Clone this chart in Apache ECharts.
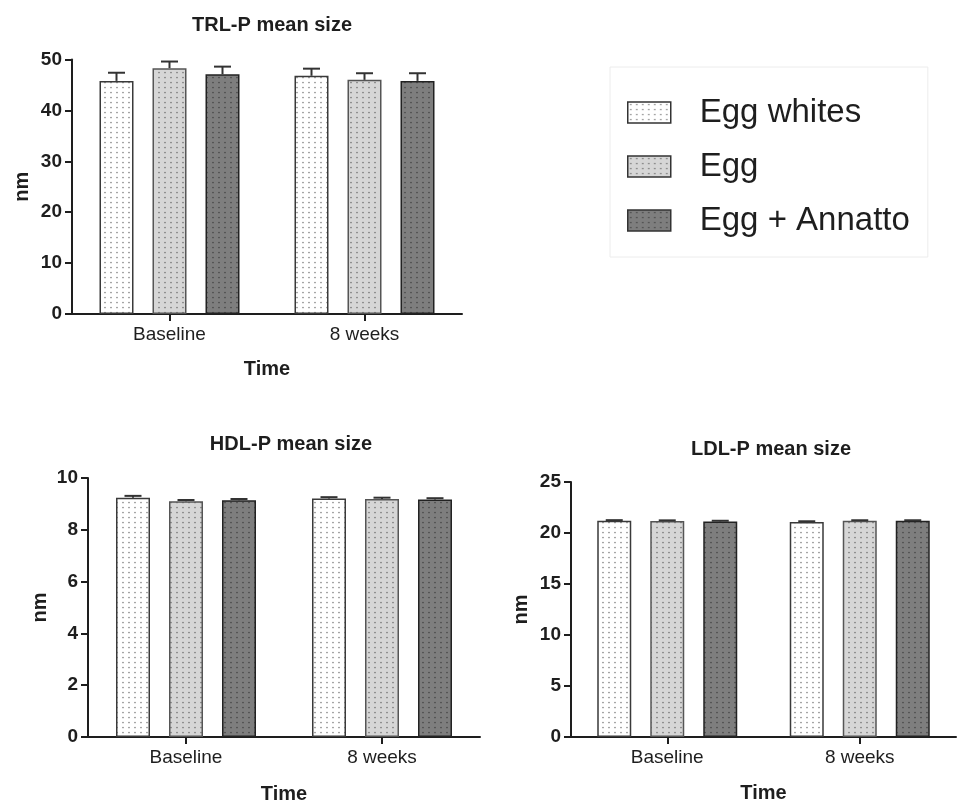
<!DOCTYPE html>
<html>
<head>
<meta charset="utf-8">
<script src="https://cdn.jsdelivr.net/npm/echarts@6/dist/echarts.min.js"></script>
<style>
html,body{margin:0;padding:0;background:#fff;}
#chart{width:958px;height:805px;}
</style>
</head>
<body>
<div id="chart"></div>
<script>
// ---- data ----
const categories = ['Baseline', '8 weeks'];
const seriesNames = ['Egg whites', 'Egg', 'Egg + Annatto'];

const trlEggWhites = [45.8, 46.8];
const trlEgg = [48.3, 46.0];
const trlAnnatto = [47.1, 45.8];
const trlEggWhitesErr = [1.6, 1.4];
const trlEggErr = [1.3, 1.3];
const trlAnnattoErr = [1.5, 1.5];

const hdlEggWhites = [9.24, 9.21];
const hdlEgg = [9.10, 9.19];
const hdlAnnatto = [9.14, 9.17];
const hdlEggWhitesErr = [0.07, 0.05];
const hdlEggErr = [0.05, 0.05];
const hdlAnnattoErr = [0.05, 0.05];

const ldlEggWhites = [21.20, 21.07];
const ldlEgg = [21.18, 21.20];
const ldlAnnatto = [21.13, 21.20];
const ldlEggWhitesErr = [0.06, 0.08];
const ldlEggErr = [0.06, 0.05];
const ldlAnnattoErr = [0.07, 0.05];

const titles = ['TRL-P mean size', 'HDL-P mean size', 'LDL-P mean size'];
const yMax = [50, 10, 25];
const yInterval = [10, 2, 5];

// ---- styles ----
const FONT = 'Liberation Sans, Arial, sans-serif';
const INK = '#1e1e1e';
const BAR_W = 34;
const BAR_GAP = 19;
const CAP = 17;

function makePattern(bg, dot) {
  const c = document.createElement('canvas');
  c.width = 6; c.height = 5;
  const ctx = c.getContext('2d');
  ctx.fillStyle = bg; ctx.fillRect(0, 0, 6, 5);
  ctx.fillStyle = dot;
  ctx.beginPath(); ctx.arc(3, 2.5, 0.85, 0, Math.PI * 2); ctx.fill();
  return { image: c, repeat: 'repeat' };
}
const fills = [
  makePattern('#ffffff', '#8a8a8a'),
  makePattern('#d6d6d6', '#7a7a7a'),
  makePattern('#7e7e7e', '#4a4a4a')
];
const borders = ['#3a3a3a', '#555555', '#222222'];

const grids = [
  { left: 72, width: 390, top: 59.5, height: 254.5 },
  { left: 88, width: 392, top: 478, height: 259 },
  { left: 571, width: 385, top: 482, height: 255 }
];
const titlePos = [
  { x: 267, y: 10 },
  { x: 286, y: 429 },
  { x: 766, y: 434 }
];
const nameGapsY = [40, 38, 40];
const nameGapsX = [45, 47, 46];

const groups = [
  { vals: [trlEggWhites, trlEgg, trlAnnatto], errs: [trlEggWhitesErr, trlEggErr, trlAnnattoErr] },
  { vals: [hdlEggWhites, hdlEgg, hdlAnnatto], errs: [hdlEggWhitesErr, hdlEggErr, hdlAnnattoErr] },
  { vals: [ldlEggWhites, ldlEgg, ldlAnnatto], errs: [ldlEggWhitesErr, ldlEggErr, ldlAnnattoErr] }
];

const xAxes = [], yAxes = [], series = [], titleOpts = [], gridOpts = [];
grids.forEach((g, gi) => {
  gridOpts.push(Object.assign({ outerBoundsMode: 'none', containLabel: false }, g));
  titleOpts.push({
    text: titles[gi], left: titlePos[gi].x, top: titlePos[gi].y, textAlign: 'center',
    textStyle: { fontFamily: FONT, fontSize: 20, fontWeight: 'bold', color: INK }
  });
  xAxes.push({
    type: 'category', gridIndex: gi, data: categories,
    name: 'Time', nameLocation: 'middle', nameGap: nameGapsX[gi],
    nameTextStyle: { fontFamily: FONT, fontSize: 20, fontWeight: 'bold', color: INK },
    axisLine: { show: true, lineStyle: { color: INK, width: 2 } },
    axisTick: { show: true, alignWithLabel: true, length: 7, lineStyle: { color: INK, width: 2 } },
    axisLabel: { fontFamily: FONT, fontSize: 19, color: INK, margin: 11 },
    splitLine: { show: false }
  });
  yAxes.push({
    type: 'value', gridIndex: gi, min: 0, max: yMax[gi], interval: yInterval[gi],
    name: 'nm', nameLocation: 'middle', nameGap: nameGapsY[gi], nameRotate: 90,
    nameTextStyle: { fontFamily: FONT, fontSize: 20, fontWeight: 'bold', color: INK },
    axisLine: { show: true, lineStyle: { color: INK, width: 2 } },
    axisTick: { show: true, length: 7, lineStyle: { color: INK, width: 2 } },
    axisLabel: { fontFamily: FONT, fontSize: 19, fontWeight: 'bold', color: INK, margin: 10 },
    splitLine: { show: false }
  });
  groups[gi].vals.forEach((vals, si) => {
    series.push({
      type: 'bar', name: seriesNames[si], xAxisIndex: gi, yAxisIndex: gi,
      data: vals, barWidth: BAR_W, barGap: (BAR_GAP / BAR_W * 100) + '%',
      itemStyle: { color: fills[si], borderColor: borders[si], borderWidth: 1.5 },
      emphasis: { disabled: true }, animation: false
    });
  });
  groups[gi].vals.forEach((vals, si) => {
    const errs = groups[gi].errs[si];
    series.push({
      type: 'custom', name: 'err' + gi + '_' + si, xAxisIndex: gi, yAxisIndex: gi, z: 10,
      data: vals.map((v, i) => [i, v, errs[i]]),
      encode: { x: 0, y: 1 },
      animation: false, silent: true,
      renderItem: function (params, api) {
        const c = api.value(0), v = api.value(1), e = api.value(2);
        const base = api.coord([c, v]);
        const top = api.coord([c, v + e]);
        const x = base[0] + (si - 1) * (BAR_W + BAR_GAP);
        return {
          type: 'group', children: [
            { type: 'line', shape: { x1: x, y1: base[1], x2: x, y2: top[1] }, style: { stroke: '#333', lineWidth: 2 } },
            { type: 'line', shape: { x1: x - CAP / 2, y1: top[1], x2: x + CAP / 2, y2: top[1] }, style: { stroke: '#333', lineWidth: 2 } }
          ]
        };
      }
    });
  });
});

const chart = echarts.init(document.getElementById('chart'), null, { renderer: 'canvas' });
chart.setOption({
  backgroundColor: '#fff',
  animation: false,
  title: titleOpts,
  grid: gridOpts,
  xAxis: xAxes,
  yAxis: yAxes,
  legend: {
    data: seriesNames, orient: 'vertical', left: 610, top: 67, icon: 'rect',
    padding: [29, 18, 20, 17], itemGap: 21, itemWidth: 43, itemHeight: 21,
    borderColor: '#ececec', borderWidth: 1,
    selectedMode: false,
    itemStyle: { borderColor: '#333', borderWidth: 1.5 },
    textStyle: { fontFamily: FONT, fontSize: 33, color: INK, padding: [0, 0, 0, 24] }
  },
  series: series
});
</script>
</body>
</html>
